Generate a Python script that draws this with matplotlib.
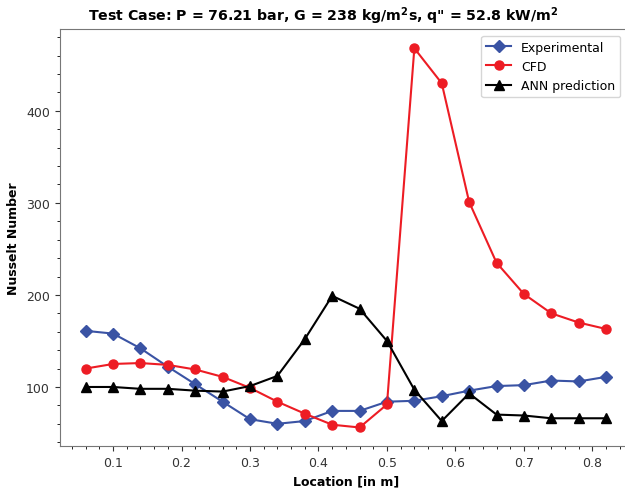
import numpy as np
import matplotlib
matplotlib.use("Agg")
import matplotlib.pyplot as plt
from matplotlib.ticker import AutoMinorLocator

# Posiciones a lo largo del tubo [m]
location = [0.06, 0.10, 0.14, 0.18, 0.22, 0.26, 0.30, 0.34, 0.38, 0.42,
            0.46, 0.50, 0.54, 0.58, 0.62, 0.66, 0.70, 0.74, 0.78, 0.82]

nu_exp = [161, 158, 142, 122, 103, 84, 65, 60, 63, 74,
          74, 84, 85, 90, 96, 101, 102, 107, 106, 111]

nu_cfd = [120, 125, 126, 124, 119, 111, 99, 84, 71, 59,
          56, 81, 468, 430, 301, 235, 201, 180, 170, 163]

nu_ann = [100, 100, 98, 98, 96, 95, 101, 112, 152, 199,
          185, 150, 97, 63, 93, 70, 69, 66, 66, 66]

fig = plt.figure(figsize=(6.25, 4.89), dpi=100)
ax = fig.add_axes([0.0954, 0.085, 0.916, 0.853])

ax.plot(location, nu_exp, marker="D", color="#3a53a4", markersize=6.5, label="Experimental")
ax.plot(location, nu_cfd, marker="o", color="#ed1c24", markersize=6.5, label="CFD")
ax.plot(location, nu_ann, marker="^", color="black", markersize=6.5, label="ANN prediction")

ax.set_xticks([0.1, 0.2, 0.3, 0.4, 0.5, 0.6, 0.7, 0.8])
ax.set_yticks([100, 200, 300, 400])
ax.xaxis.set_minor_locator(AutoMinorLocator(5))
ax.yaxis.set_minor_locator(AutoMinorLocator(5))
ax.tick_params(labelsize=9, colors="#333333")
for s in ax.spines.values():
    s.set_color("#777777")

ax.set_xlabel("Location [in m]", fontweight="bold", fontsize=9)
ax.set_ylabel("Nusselt Number", fontweight="bold", fontsize=9)
ax.set_title('Test Case: P = 76.21 bar, G = 238 kg/m$^\\mathbf{2}$s, q" = 52.8 kW/m$^\\mathbf{2}$',
             fontweight="bold", fontsize=10.2, x=0.46, pad=7)
ax.legend(loc="upper right", fontsize=9, bbox_to_anchor=(0.99, 1.0))

plt.savefig("out.png")
